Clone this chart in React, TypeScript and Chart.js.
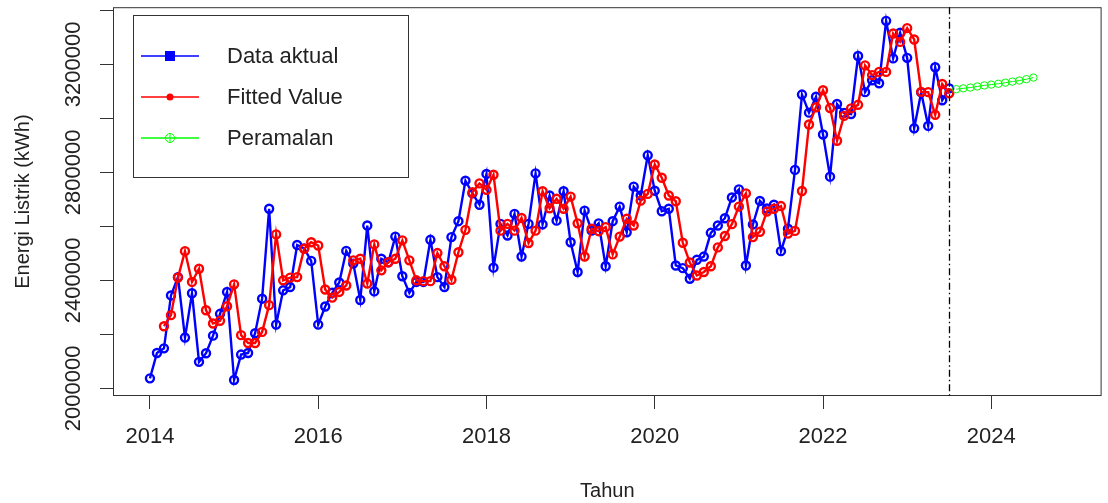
import React, { useEffect, useRef } from 'react';
import { Chart, registerables } from 'chart.js';

Chart.register(...registerables);

// ---- data ----
const START_YEAR = 2014;
const ACTUAL_START_MONTH = 0; // Jan 2014
const FITTED_START_MONTH = 2; // Mar 2014
const FORECAST_START_MONTH = 115; // Aug 2023
const FORECAST_ORIGIN = 2023.5; // vertical dashed line

const dataAktual = [
  2037000, 2131000, 2148000, 2344000, 2412000, 2188000, 2352000, 2098000, 2130000, 2195000, 2276000, 2357000,
  2031000, 2125000, 2131000, 2204000, 2332000, 2665000, 2236000, 2363000, 2375000, 2531000, 2518000, 2472000,
  2236000, 2303000, 2354000, 2392000, 2509000, 2462000, 2327000, 2603000, 2359000, 2480000, 2467000, 2562000,
  2415000, 2353000, 2394000, 2394000, 2550000, 2412000, 2375000, 2560000, 2619000, 2769000, 2722000, 2680000,
  2794000, 2447000, 2609000, 2566000, 2646000, 2488000, 2609000, 2796000, 2607000, 2714000, 2621000, 2730000,
  2541000, 2431000, 2658000, 2584000, 2611000, 2452000, 2619000, 2673000, 2578000, 2747000, 2714000, 2863000,
  2732000, 2656000, 2665000, 2455000, 2445000, 2406000, 2476000, 2488000, 2576000, 2603000, 2630000, 2707000,
  2737000, 2455000, 2607000, 2694000, 2666000, 2680000, 2508000, 2591000, 2809000, 3088000, 3021000, 3080000,
  2940000, 2784000, 3053000, 3020000, 3016000, 3231000, 3097000, 3141000, 3130000, 3361000, 3222000, 3317000,
  3224000, 2963000, 3096000, 2972000, 3189000, 3067000, 3111000,
];

const fittedValue = [
  2230000, 2271000, 2410000, 2508000, 2394000, 2443000, 2289000, 2240000, 2250000, 2304000,
  2385000, 2197000, 2168000, 2168000, 2209000, 2308000, 2570000, 2400000, 2410000, 2412000, 2517000, 2541000,
  2529000, 2366000, 2336000, 2357000, 2381000, 2474000, 2480000, 2388000, 2533000, 2437000, 2467000, 2480000,
  2548000, 2474000, 2400000, 2397000, 2397000, 2501000, 2452000, 2402000, 2504000, 2587000, 2726000, 2759000,
  2735000, 2791000, 2584000, 2609000, 2584000, 2631000, 2538000, 2584000, 2730000, 2667000, 2702000, 2665000,
  2710000, 2611000, 2488000, 2591000, 2582000, 2597000, 2496000, 2562000, 2628000, 2603000, 2695000, 2720000,
  2829000, 2780000, 2714000, 2693000, 2539000, 2466000, 2418000, 2431000, 2452000, 2522000, 2564000, 2608000,
  2673000, 2722000, 2560000, 2580000, 2655000, 2665000, 2675000, 2573000, 2583000, 2731000, 2977000, 3041000,
  3104000, 3038000, 2917000, 3009000, 3037000, 3050000, 3196000, 3160000, 3172000, 3172000, 3314000, 3283000,
  3334000, 3292000, 3098000, 3097000, 3013000, 3127000, 3093000,
];

const peramalan = [
  3108000, 3111000, 3114000, 3118000, 3122000, 3125000, 3128000, 3132000, 3136000, 3140000, 3145000, 3151000,
];

const xTickValues = [2014, 2016, 2018, 2020, 2022, 2024];
const yTickValues = [2000000, 2200000, 2400000, 2600000, 2800000, 3000000, 3200000, 3400000];
const yLabelValues = [2000000, 2400000, 2800000, 3200000];

const legendLabels = ['Data aktual', 'Fitted Value', 'Peramalan'];
const xTitle = 'Tahun';
const yTitle = 'Energi Listrik (kWh)';

const BLUE = '#0000FF';
const RED = '#FF0000';
const GREEN = '#00FF00';
const INK = '#222222';
const FONT = '"Liberation Sans", Arial, sans-serif';

function toPoints(values: number[], startMonth: number) {
  return values.map((v, i) => ({ x: START_YEAR + (startMonth + i) / 12, y: v }));
}

const rPlotPlugin = {
  id: 'rPlot',
  afterDraw(chart: any) {
    const { ctx, chartArea: a, scales } = chart;
    const xs = scales.x;
    const ys = scales.y;
    ctx.save();

    // plot box
    ctx.strokeStyle = '#333';
    ctx.lineWidth = 1;
    ctx.setLineDash([]);
    ctx.strokeRect(a.left + 0.5, a.top + 0.5, a.right - a.left - 1, a.bottom - a.top - 1);

    // vertical dot-dash line at forecast origin
    const vx = Math.round(xs.getPixelForValue(FORECAST_ORIGIN)) + 0.5;
    ctx.strokeStyle = '#000';
    ctx.lineWidth = 1.3;
    ctx.setLineDash([7, 3, 1.5, 3]);
    ctx.beginPath();
    ctx.moveTo(vx, a.top);
    ctx.lineTo(vx, a.bottom);
    ctx.stroke();
    ctx.setLineDash([]);

    // y tick labels (rotated, R style)
    ctx.fillStyle = INK;
    ctx.font = `22px ${FONT}`;
    ctx.textAlign = 'center';
    ctx.textBaseline = 'middle';
    yLabelValues.forEach((v) => {
      const py = ys.getPixelForValue(v);
      ctx.save();
      ctx.translate(74, py);
      ctx.rotate(-Math.PI / 2);
      ctx.fillText(String(v), 0, 0);
      ctx.restore();
    });

    // y title
    ctx.font = `20px ${FONT}`;
    ctx.save();
    ctx.translate(23, (a.top + a.bottom) / 2);
    ctx.rotate(-Math.PI / 2);
    ctx.fillText(yTitle, 0, 0);
    ctx.restore();

    // legend
    const lx0 = 133.5, ly0 = 15.5, lw = 275, lh = 162;
    ctx.strokeStyle = '#333';
    ctx.lineWidth = 1;
    ctx.strokeRect(lx0, ly0, lw, lh);
    const rows = [56, 97, 138];
    const colors = [BLUE, RED, GREEN];
    rows.forEach((ry, i) => {
      ctx.strokeStyle = colors[i];
      ctx.lineWidth = 1.5;
      ctx.beginPath();
      ctx.moveTo(141, ry);
      ctx.lineTo(199, ry);
      ctx.stroke();
      const mx = 170;
      if (i === 0) {
        ctx.fillStyle = BLUE;
        ctx.fillRect(mx - 5, ry - 5, 10, 10);
      } else if (i === 1) {
        ctx.fillStyle = RED;
        ctx.beginPath();
        ctx.arc(mx, ry, 3.5, 0, Math.PI * 2);
        ctx.fill();
      } else {
        ctx.strokeStyle = GREEN;
        ctx.lineWidth = 1;
        ctx.beginPath();
        ctx.arc(mx, ry, 4.5, 0, Math.PI * 2);
        ctx.stroke();
        ctx.beginPath();
        ctx.moveTo(mx, ry - 4.5);
        ctx.lineTo(mx, ry + 4.5);
        ctx.stroke();
      }
      ctx.fillStyle = INK;
      ctx.font = `22px ${FONT}`;
      ctx.textAlign = 'left';
      ctx.textBaseline = 'middle';
      ctx.fillText(legendLabels[i], 227, ry + 1);
    });

    ctx.restore();
  },
};

export default function App() {
  const canvasRef = useRef<HTMLCanvasElement | null>(null);

  useEffect(() => {
    document.body.style.margin = '0';
    const canvas = canvasRef.current;
    if (!canvas) return;
    const chart = new Chart(canvas, {
      type: 'line',
      data: {
        datasets: [
          {
            label: legendLabels[0],
            data: toPoints(dataAktual, ACTUAL_START_MONTH),
            borderColor: BLUE,
            backgroundColor: 'rgba(0,0,0,0)',
            borderWidth: 2.4,
            pointRadius: 4,
            pointBorderWidth: 2.4,
            pointBorderColor: BLUE,
            pointBackgroundColor: 'rgba(0,0,0,0)',
            tension: 0,
            order: 3,
          },
          {
            label: legendLabels[1],
            data: toPoints(fittedValue, FITTED_START_MONTH),
            borderColor: RED,
            backgroundColor: 'rgba(0,0,0,0)',
            borderWidth: 2.4,
            pointRadius: 4,
            pointBorderWidth: 2.4,
            pointBorderColor: RED,
            pointBackgroundColor: 'rgba(0,0,0,0)',
            tension: 0,
            order: 2,
          },
          {
            label: legendLabels[2],
            data: toPoints(peramalan, FORECAST_START_MONTH),
            borderColor: GREEN,
            backgroundColor: 'rgba(0,0,0,0)',
            borderWidth: 1,
            pointRadius: 3.7,
            pointBorderWidth: 1,
            pointBorderColor: GREEN,
            pointBackgroundColor: 'rgba(0,0,0,0)',
            tension: 0,
            order: 1,
          },
        ],
      },
      options: {
        animation: false,
        responsive: false,
        devicePixelRatio: 1,
        layout: { padding: { left: 0, top: 6, right: 5, bottom: 0 } },
        plugins: {
          legend: { display: false },
          tooltip: { enabled: false },
        },
        scales: {
          x: {
            type: 'linear',
            min: 2013.561,
            max: 2025.311,
            grid: {
              drawOnChartArea: false,
              drawTicks: true,
              tickLength: 13,
              color: '#333',
              lineWidth: 1,
            },
            border: { display: false },
            ticks: {
              autoSkip: false,
              maxRotation: 0,
              minRotation: 0,
              padding: 15,
              color: INK,
              font: { family: FONT, size: 22 },
              callback: (v: any) => String(v),
            },
            afterBuildTicks: (scale: any) => {
              scale.ticks = xTickValues.map((v) => ({ value: v }));
            },
            afterFit: (scale: any) => {
              scale.height = 107;
            },
            title: {
              display: true,
              text: xTitle,
              color: INK,
              font: { family: FONT, size: 20 },
              padding: { top: 0, bottom: 0 },
            },
          },
          y: {
            type: 'linear',
            min: 1971570,
            max: 3411570,
            grid: {
              drawOnChartArea: false,
              drawTicks: true,
              tickLength: 13,
              color: '#333',
              lineWidth: 1,
            },
            border: { display: false },
            ticks: {
              autoSkip: false,
              padding: 0,
              callback: () => '',
            },
            afterBuildTicks: (scale: any) => {
              scale.ticks = yTickValues.map((v) => ({ value: v }));
            },
            afterFit: (scale: any) => {
              scale.width = 113;
            },
          },
        },
      },
      plugins: [rPlotPlugin],
    });
    return () => chart.destroy();
  }, []);

  return (
    <div style={{ width: 1108, height: 503, background: '#fff' }}>
      <canvas ref={canvasRef} width={1108} height={503} style={{ display: 'block' }} />
    </div>
  );
}
